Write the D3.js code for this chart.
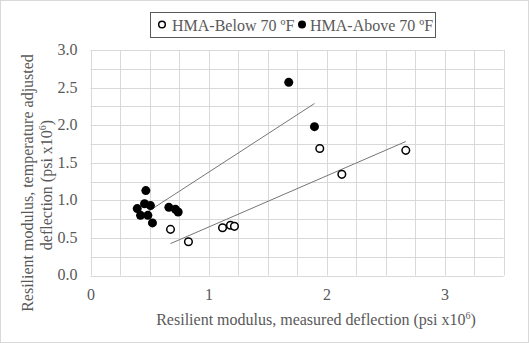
<!DOCTYPE html>
<html><head><meta charset="utf-8">
<script src="https://cdn.jsdelivr.net/npm/d3@7"></script>
<style>body{margin:0;background:#fff}svg{display:block}text{font-family:"Liberation Serif","Times New Roman",serif;fill:#595959}</style>
</head><body><svg id="c" width="529" height="343"></svg>
<script>
const belowX = [0.678, 0.83, 1.119, 1.186, 1.22, 1.943, 2.13, 2.672];
const belowY = [0.614, 0.45, 0.636, 0.668, 0.654, 1.69, 1.346, 1.665];
const aboveX = [0.469, 0.458, 0.508, 0.396, 0.424, 0.486, 0.525, 0.664, 0.72, 0.743, 1.68, 1.898];
const aboveY = [1.13, 0.955, 0.93, 0.89, 0.80, 0.80, 0.70, 0.907, 0.88, 0.845, 2.57, 1.98];
const seriesNames = ["HMA-Below 70 ºF", "HMA-Above 70 ºF"];
const xTicks = [0, 1, 2, 3];
const yTicks = [0, 0.5, 1, 1.5, 2, 2.5, 3];

const svg = d3.select("#c");
svg.append("rect").attr("x",0.5).attr("y",0.5).attr("width",528).attr("height",342)
  .attr("fill","#fff").attr("stroke","#d9d9d9");

const x = d3.scaleLinear().domain([0,3.5]).range([90.5,503.5]);
const y = d3.scaleLinear().domain([0,3]).range([275.5,50]);

// gridlines every 0.25 / 0.25
const g = svg.append("g");
g.selectAll(".vx").data(d3.range(0,3.5001,0.25)).join("line")
  .attr("x1",d=>Math.round(x(d))+0.5).attr("x2",d=>Math.round(x(d))+0.5)
  .attr("y1",y(0)).attr("y2",y(3)).attr("stroke","#d9d9d9").attr("stroke-width",1);
g.selectAll(".hy").data(d3.range(0,3.0001,0.25)).join("line")
  .attr("y1",d=>Math.round(y(d))+0.5).attr("y2",d=>Math.round(y(d))+0.5)
  .attr("x1",x(0)).attr("x2",x(3.5)).attr("stroke","#d9d9d9").attr("stroke-width",1);

// axes labels via d3 axes
const xa = svg.append("g").attr("transform",`translate(0,${y(0)})`)
  .call(d3.axisBottom(x).tickValues(xTicks).tickFormat(d3.format("d")).tickSize(0).tickPadding(0));
xa.select(".domain").remove();
xa.selectAll("text").attr("font-size",16).attr("font-family",null).attr("fill","#595959").attr("dy",null).attr("y",24.5);

const ya = svg.append("g").attr("transform",`translate(${x(0)},0)`)
  .call(d3.axisLeft(y).tickValues(yTicks).tickFormat(d3.format(".1f")).tickSize(0).tickPadding(0));
ya.select(".domain").remove();
ya.selectAll("text").attr("font-size",16).attr("font-family",null).attr("fill","#595959").attr("x",-13).attr("dy","0.28em");

// trendlines
function trend(xs, ys){
  const mx=d3.mean(xs), my=d3.mean(ys);
  let sxy=0,sxx=0; xs.forEach((v,i)=>{sxy+=(v-mx)*(ys[i]-my); sxx+=(v-mx)*(v-mx);});
  const b=sxy/sxx, a=my-b*mx; const [lo,hi]=d3.extent(xs);
  return [[lo,a+b*lo],[hi,a+b*hi]];
}
const line = d3.line().x(d=>x(d[0])).y(d=>y(d[1]));
[[belowX,belowY],[aboveX,aboveY]].forEach(([xs,ys])=>{
  svg.append("path").attr("d",line(trend(xs,ys))).attr("fill","none").attr("stroke","#767676").attr("stroke-width",1);
});

// points
svg.append("g").selectAll("circle").data(d3.zip(belowX,belowY)).join("circle")
  .attr("cx",d=>x(d[0])).attr("cy",d=>y(d[1])).attr("r",3.8)
  .attr("fill","#fff").attr("stroke","#000").attr("stroke-width",1.5);
svg.append("g").selectAll("circle").data(d3.zip(aboveX,aboveY)).join("circle")
  .attr("cx",d=>x(d[0])).attr("cy",d=>y(d[1])).attr("r",4.5).attr("fill","#000");

// legend
const lg = svg.append("g");
lg.append("rect").attr("x",150.5).attr("y",12.5).attr("width",285).attr("height",25)
  .attr("fill","#fff").attr("stroke","#595959").attr("stroke-width",1);
lg.append("circle").attr("cx",162).attr("cy",24.5).attr("r",3.3).attr("fill","#fff").attr("stroke","#000").attr("stroke-width",1.5);
lg.append("text").attr("x",172).attr("y",30.5).attr("font-size",16).text(seriesNames[0]);
lg.append("circle").attr("cx",302).attr("cy",24.5).attr("r",4).attr("fill","#000");
lg.append("text").attr("x",310).attr("y",30.5).attr("font-size",16).text(seriesNames[1]);

// axis titles
const xt = svg.append("text").attr("x",316).attr("y",325).attr("text-anchor","middle").attr("font-size",16);
xt.append("tspan").text("Resilient modulus, measured deflection (psi x10");
xt.append("tspan").attr("font-size",10).attr("dy",-6).text("6");
xt.append("tspan").attr("dy",6).text(")");

const yt = svg.append("text").attr("transform","translate(33,183) rotate(-90)").attr("text-anchor","middle").attr("font-size",16);
yt.append("tspan").attr("x",0).attr("y",0).text("Resilient modulus, temperature adjusted");
const yt2 = svg.append("text").attr("transform","translate(52,185) rotate(-90)").attr("text-anchor","middle").attr("font-size",16);
yt2.append("tspan").text("deflection (psi x10");
yt2.append("tspan").attr("font-size",10).attr("dy",-6).text("6");
yt2.append("tspan").attr("dy",6).text(")");
</script></body></html>
